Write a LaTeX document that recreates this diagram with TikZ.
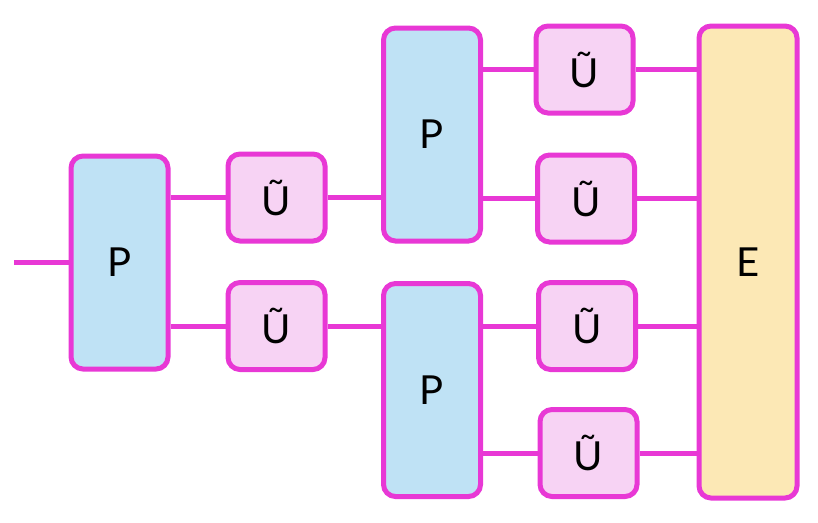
\documentclass[tikz,border=0pt]{standalone}
\usepackage{fontspec}
\setmainfont{Lato}
\definecolor{edge}{HTML}{E838D5}
\definecolor{pblue}{HTML}{BFE2F5}
\definecolor{upink}{HTML}{F7D3F4}
\definecolor{eyel}{HTML}{FCE8B5}
\tikzset{
  box/.style={draw=edge, line width=5pt, rounded corners=12pt, inner sep=0pt,
    font=\fontsize{40}{44}\selectfont},
  pbox/.style={box, fill=pblue, minimum width=97pt, minimum height=213pt},
  ubox/.style={box, fill=upink, minimum width=97pt, minimum height=87pt},
  ebox/.style={box, fill=eyel, minimum width=98pt, minimum height=472pt},
  wire/.style={draw=edge, line width=5pt}
}
\begin{document}
\begin{tikzpicture}[x=1pt,y=-1pt]
\useasboundingbox (0,0) rectangle (818,522);
\node[pbox] (P1) at (119.5,262.5) {P};
\node[ubox] (U1) at (276.5,197.5) {Ũ};
\node[ubox] (U2) at (276.5,326) {Ũ};
\node[pbox] (P2) at (432,134.5) {P};
\node[pbox] (P3) at (432,390) {P};
\node[ubox] (U3) at (584.5,69.5) {Ũ};
\node[ubox] (U4) at (586,198.5) {Ũ};
\node[ubox] (U5) at (587,326) {Ũ};
\node[ubox] (U6) at (588.5,453) {Ũ};
\node[ebox] (E) at (748,262) {E};
\coordinate (in) at (14,262.5);
\draw[wire] (in) -- (P1.west);
\draw[wire] (P1.east |- U1.west) -- (U1.west);
\draw[wire] (P1.east |- U2.west) -- (U2.west);
\draw[wire] (U1.east) -- (U1.east -| P2.west);
\draw[wire] (U2.east) -- (U2.east -| P3.west);
\draw[wire] (P2.east |- U3.west) -- (U3.west);
\draw[wire] (P2.east |- U4.west) -- (U4.west);
\draw[wire] (P3.east |- U5.west) -- (U5.west);
\draw[wire] (P3.east |- U6.west) -- (U6.west);
\draw[wire] (U3.east) -- (U3.east -| E.west);
\draw[wire] (U4.east) -- (U4.east -| E.west);
\draw[wire] (U5.east) -- (U5.east -| E.west);
\draw[wire] (U6.east) -- (U6.east -| E.west);
\end{tikzpicture}
\end{document}
